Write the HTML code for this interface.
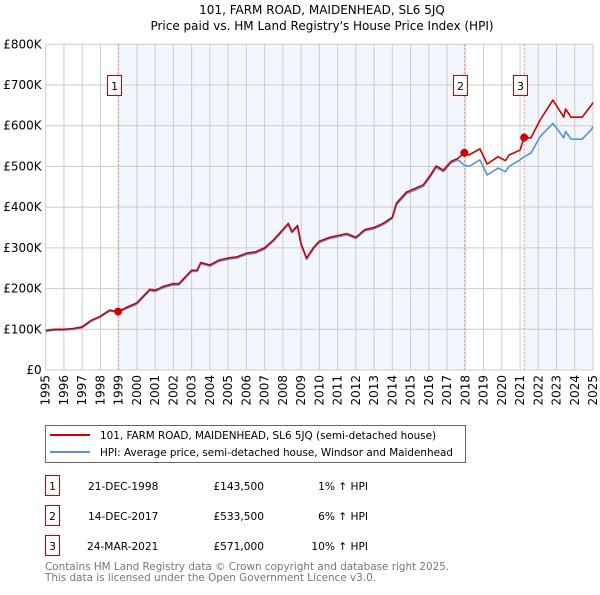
<!DOCTYPE html>
<html><head><meta charset="utf-8">
<style>
body{margin:0;background:#fff;font-family:"Liberation Sans","DejaVu Sans",sans-serif;}
svg text{font-family:"DejaVu Sans","Liberation Sans",sans-serif;}
</style></head>
<body>
<svg id="c" width="600" height="590" viewBox="0 0 600 590" xmlns="http://www.w3.org/2000/svg">
<text x="322" y="14" font-size="12" text-anchor="middle">101, FARM ROAD, MAIDENHEAD, SL6 5JQ</text>
<text x="322" y="30" font-size="12" text-anchor="middle">Price paid vs. HM Land Registry's House Price Index (HPI)</text>
<g id="plot"></g>
<g>
<rect x="45.5" y="425.5" width="420" height="37" fill="#fff" stroke="#666"/>
<line x1="50" y1="435" x2="90" y2="435" stroke="#cc0000" stroke-width="2"/>
<text x="100" y="439" font-size="10.4">101, FARM ROAD, MAIDENHEAD, SL6 5JQ (semi-detached house)</text>
<line x1="50" y1="452" x2="90" y2="452" stroke="#5b8fd6" stroke-width="2"/>
<text x="100" y="456" font-size="10.4">HPI: Average price, semi-detached house, Windsor and Maidenhead</text>
</g>
<g font-size="10.6">
<rect x="45.5" y="475.5" width="14" height="20" fill="#fff" stroke="#cc0000"/><text x="52.5" y="490" text-anchor="middle">1</text>
<text x="88" y="490">21-DEC-1998</text><text x="264" y="490" text-anchor="end">£143,500</text><text x="368" y="490" text-anchor="end">1% ↑ HPI</text>
<rect x="45.5" y="505.5" width="14" height="20" fill="#fff" stroke="#cc0000"/><text x="52.5" y="520" text-anchor="middle">2</text>
<text x="88" y="520">14-DEC-2017</text><text x="264" y="520" text-anchor="end">£533,500</text><text x="368" y="520" text-anchor="end">6% ↑ HPI</text>
<rect x="45.5" y="535.5" width="14" height="20" fill="#fff" stroke="#cc0000"/><text x="52.5" y="550" text-anchor="middle">3</text>
<text x="87" y="550">24-MAR-2021</text><text x="264" y="550" text-anchor="end">£571,000</text><text x="368" y="550" text-anchor="end">10% ↑ HPI</text>
</g>
<text x="45" y="570" font-size="10.4" fill="#777">Contains HM Land Registry data © Crown copyright and database right 2025.</text>
<text x="45" y="581" font-size="10.4" fill="#777">This data is licensed under the Open Government Licence v3.0.</text>
</svg>
<script>
const yTicks=[0,100000,200000,300000,400000,500000,600000,700000,800000];
const yTickLabels=["£0","£100K","£200K","£300K","£400K","£500K","£600K","£700K","£800K"];
const years=[1995,1996,1997,1998,1999,2000,2001,2002,2003,2004,2005,2006,2007,2008,2009,2010,2011,2012,2013,2014,2015,2016,2017,2018,2019,2020,2021,2022,2023,2024,2025];
const saleDates=[1998.97,2017.95,2021.23];
const salePrices=[143500,533500,571000];
const saleLabels=["1","2","3"];
const redT=[1995,1995.5,1996,1996.5,1997,1997.5,1998,1998.5,1998.97,1999.5,2000,2000.7,2001,2001.5,2002,2002.3,2003,2003.3,2003.5,2004,2004.5,2005,2005.5,2006,2006.5,2007,2007.5,2008,2008.3,2008.5,2008.8,2009,2009.3,2009.7,2010,2010.5,2011,2011.5,2012,2012.5,2013,2013.5,2014,2014.23,2014.78,2015.7,2016.06,2016.4,2016.8,2017.2,2017.6,2017.95,2018.2,2018.8,2019.2,2019.8,2020.2,2020.4,2021,2021.23,2021.6,2022.1,2022.8,2023.4,2023.5,2023.8,2024.4,2024.9,2025];
const redV=[97000,100000,100000,102000,106000,122000,132000,147000,143500,155000,165000,198000,196000,206000,212000,212000,245000,245000,264000,258000,270000,275000,278000,287000,290000,300000,320000,345000,360000,340000,355000,310000,275000,302000,316000,325000,330000,335000,326000,345000,350000,360000,375000,410000,437000,455000,477000,501000,491000,512000,520000,533500,528000,543000,506000,524000,514000,528000,540000,571000,570000,614000,663000,621000,641000,621000,621000,650000,657000];
const blueT=[1995,1995.5,1996,1996.5,1997,1997.5,1998,1998.5,1998.97,1999.5,2000,2000.7,2001,2001.5,2002,2002.3,2003,2003.3,2003.5,2004,2004.5,2005,2005.5,2006,2006.5,2007,2007.5,2008,2008.3,2008.5,2008.8,2009,2009.3,2009.7,2010,2010.5,2011,2011.5,2012,2012.5,2013,2013.5,2014,2014.23,2014.78,2015.7,2016.06,2016.4,2016.8,2017.2,2017.6,2017.95,2018.2,2018.8,2019.2,2019.8,2020.2,2020.4,2021,2021.23,2021.6,2022.1,2022.8,2023.4,2023.5,2023.8,2024.4,2024.9,2025];
const blueV=[95000,98000,98000,100000,104000,120000,130000,145000,142000,152000,162000,195000,193000,203000,209000,209000,242000,242000,261000,255000,267000,272000,275000,284000,287000,297000,317000,342000,357000,337000,352000,307000,272000,299000,313000,322000,327000,332000,323000,342000,347000,357000,372000,406000,433000,451000,473000,497000,487000,508000,516000,503000,500000,516000,479000,496000,487000,500000,516000,524000,533000,573000,606000,570000,586000,567000,567000,590000,598000];
const X0=45.7,X1=593,Y0=370,Y1=44.3;
const xs=t=>X0+(t-1995)/(2025-1995)*(X1-X0);
const ys=v=>Y0-v/800000*(Y0-Y1);
const NS="http://www.w3.org/2000/svg";
const g=document.getElementById('plot');
function mk(tag,attrs,parent){const e=document.createElementNS(NS,tag);for(const k in attrs)e.setAttribute(k,attrs[k]);(parent||g).appendChild(e);return e;}
let r=mk('rect',{x:X0,y:Y1,width:X1-X0,height:Y0-Y1,fill:'#fff'});


let s1=mk('rect',{x:xs(saleDates[0]),y:Y1,width:xs(saleDates[1])-xs(saleDates[0]),height:Y0-Y1,fill:'#f3f7fd'});


let s2=mk('rect',{x:xs(saleDates[2]),y:Y1,width:X1-xs(saleDates[2]),height:Y0-Y1,fill:'#f3f7fd'});


yTicks.forEach((v,i)=>{
 let l=mk('line',{x1:X0,x2:X1,y1:ys(v),y2:ys(v),stroke:'#ccc','stroke-width':1});
 
 
 let t=mk('text',{x:X0-4,y:ys(v)+4,'font-size':12,'text-anchor':'end'});
 t.textContent=yTickLabels[i];
 
 
});
years.forEach(y=>{
 let l=mk('line',{x1:xs(y),x2:xs(y),y1:Y1,y2:Y0,stroke:'#ccc','stroke-width':1});
 
 
 let t=mk('text',{x:0,y:0,'font-size':12,'text-anchor':'end',transform:`translate(${xs(y)+4},${Y0+5}) rotate(-90)`});
 t.textContent=y;
 
 
});
saleDates.forEach((d,i)=>{
 let l=mk('line',{x1:xs(d),x2:xs(d),y1:Y1,y2:Y0,stroke:'#e88','stroke-width':1,'stroke-dasharray':'2,2'});
 
 
});
function path(T,V,color,name){
 let d=T.map((t,i)=>(i?'L':'M')+xs(t).toFixed(1)+','+ys(V[i]).toFixed(1)).join('');
 let p=mk('path',{d:d,fill:'none',stroke:color,'stroke-width':1.6,'stroke-linejoin':'round'});
 
 
}
path(blueT,blueV,'#5b8fd6','hpi-line');
path(redT,redV,'#cc0000','property-line');
saleDates.forEach((d,i)=>{
 let c=mk('circle',{cx:xs(d),cy:ys(salePrices[i]),r:4,fill:'#cc0000'});
 
 
 let bx=Math.round(xs(d)-11)+0.5;
 let b=mk('rect',{x:bx,y:75.5,width:14,height:20,fill:'#fff',stroke:'#cc0000'});
 
 
 let t=mk('text',{x:bx+7,y:90,'font-size':11,'text-anchor':'middle'});
 t.textContent=saleLabels[i];
 
 
});
</script>
</body></html>
